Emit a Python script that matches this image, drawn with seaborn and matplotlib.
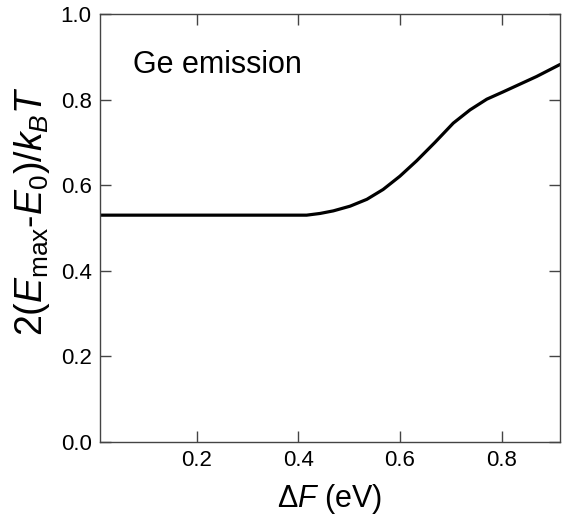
import matplotlib
matplotlib.use("Agg")
import matplotlib.pyplot as plt
import seaborn as sns
import pandas as pd

delta_f = [0.01, 0.4165, 0.443, 0.469, 0.502, 0.535, 0.567, 0.600, 0.633,
           0.669, 0.705, 0.738, 0.771, 0.803, 0.836, 0.869, 0.915]
ratio = [0.530, 0.530, 0.534, 0.540, 0.551, 0.567, 0.590, 0.621, 0.657,
         0.700, 0.745, 0.776, 0.801, 0.818, 0.836, 0.854, 0.882]
x_ticks = [0.2, 0.4, 0.6, 0.8]
y_ticks = [0.0, 0.2, 0.4, 0.6, 0.8, 1.0]

sns.set_theme(style="ticks")
plt.rcParams['font.family'] = ['Liberation Sans', 'DejaVu Sans']
plt.rcParams['mathtext.fontset'] = 'custom'
plt.rcParams['mathtext.rm'] = 'Liberation Sans'
plt.rcParams['mathtext.it'] = 'Liberation Sans:italic'
plt.rcParams['mathtext.bf'] = 'Liberation Sans:bold'
plt.rcParams['text.color'] = 'black'
plt.rcParams['axes.labelcolor'] = 'black'

df = pd.DataFrame({"dF": delta_f, "r": ratio})

fig = plt.figure(figsize=(5.62, 5.25), dpi=100)
ax = fig.add_axes([100/562, 83/525, 460/562, 428/525])
sns.lineplot(data=df, x="dF", y="r", ax=ax, color="black", linewidth=2.3)

ax.set_xlim(0.01, 0.915)
ax.set_ylim(0.0, 1.0)
ax.set_xticks(x_ticks)
ax.set_yticks(y_ticks)
ax.set_xticklabels([f"{v:.1f}" for v in x_ticks])
ax.set_yticklabels([f"{v:.1f}" for v in y_ticks])
ax.tick_params(direction="in", length=8, width=1.0, color="#444444",
               labelsize=16, top=True, right=True, pad=6, labelcolor="black")
for s in ax.spines.values():
    s.set_visible(True)
    s.set_linewidth(1.0)
    s.set_color("#444444")

ax.set_xlabel(r"$\Delta F$ (eV)", fontsize=22, labelpad=8)
ax.set_ylabel(r"2($E_{\rm max}$-$E_0$)/$k_BT$", fontsize=27)
ax.yaxis.set_label_coords(-0.105, 0.54)
ax.text(0.072, 0.88, "Ge emission", transform=ax.transAxes, fontsize=22,
        ha="left", va="center")

fig.savefig("out.png", dpi=100)
